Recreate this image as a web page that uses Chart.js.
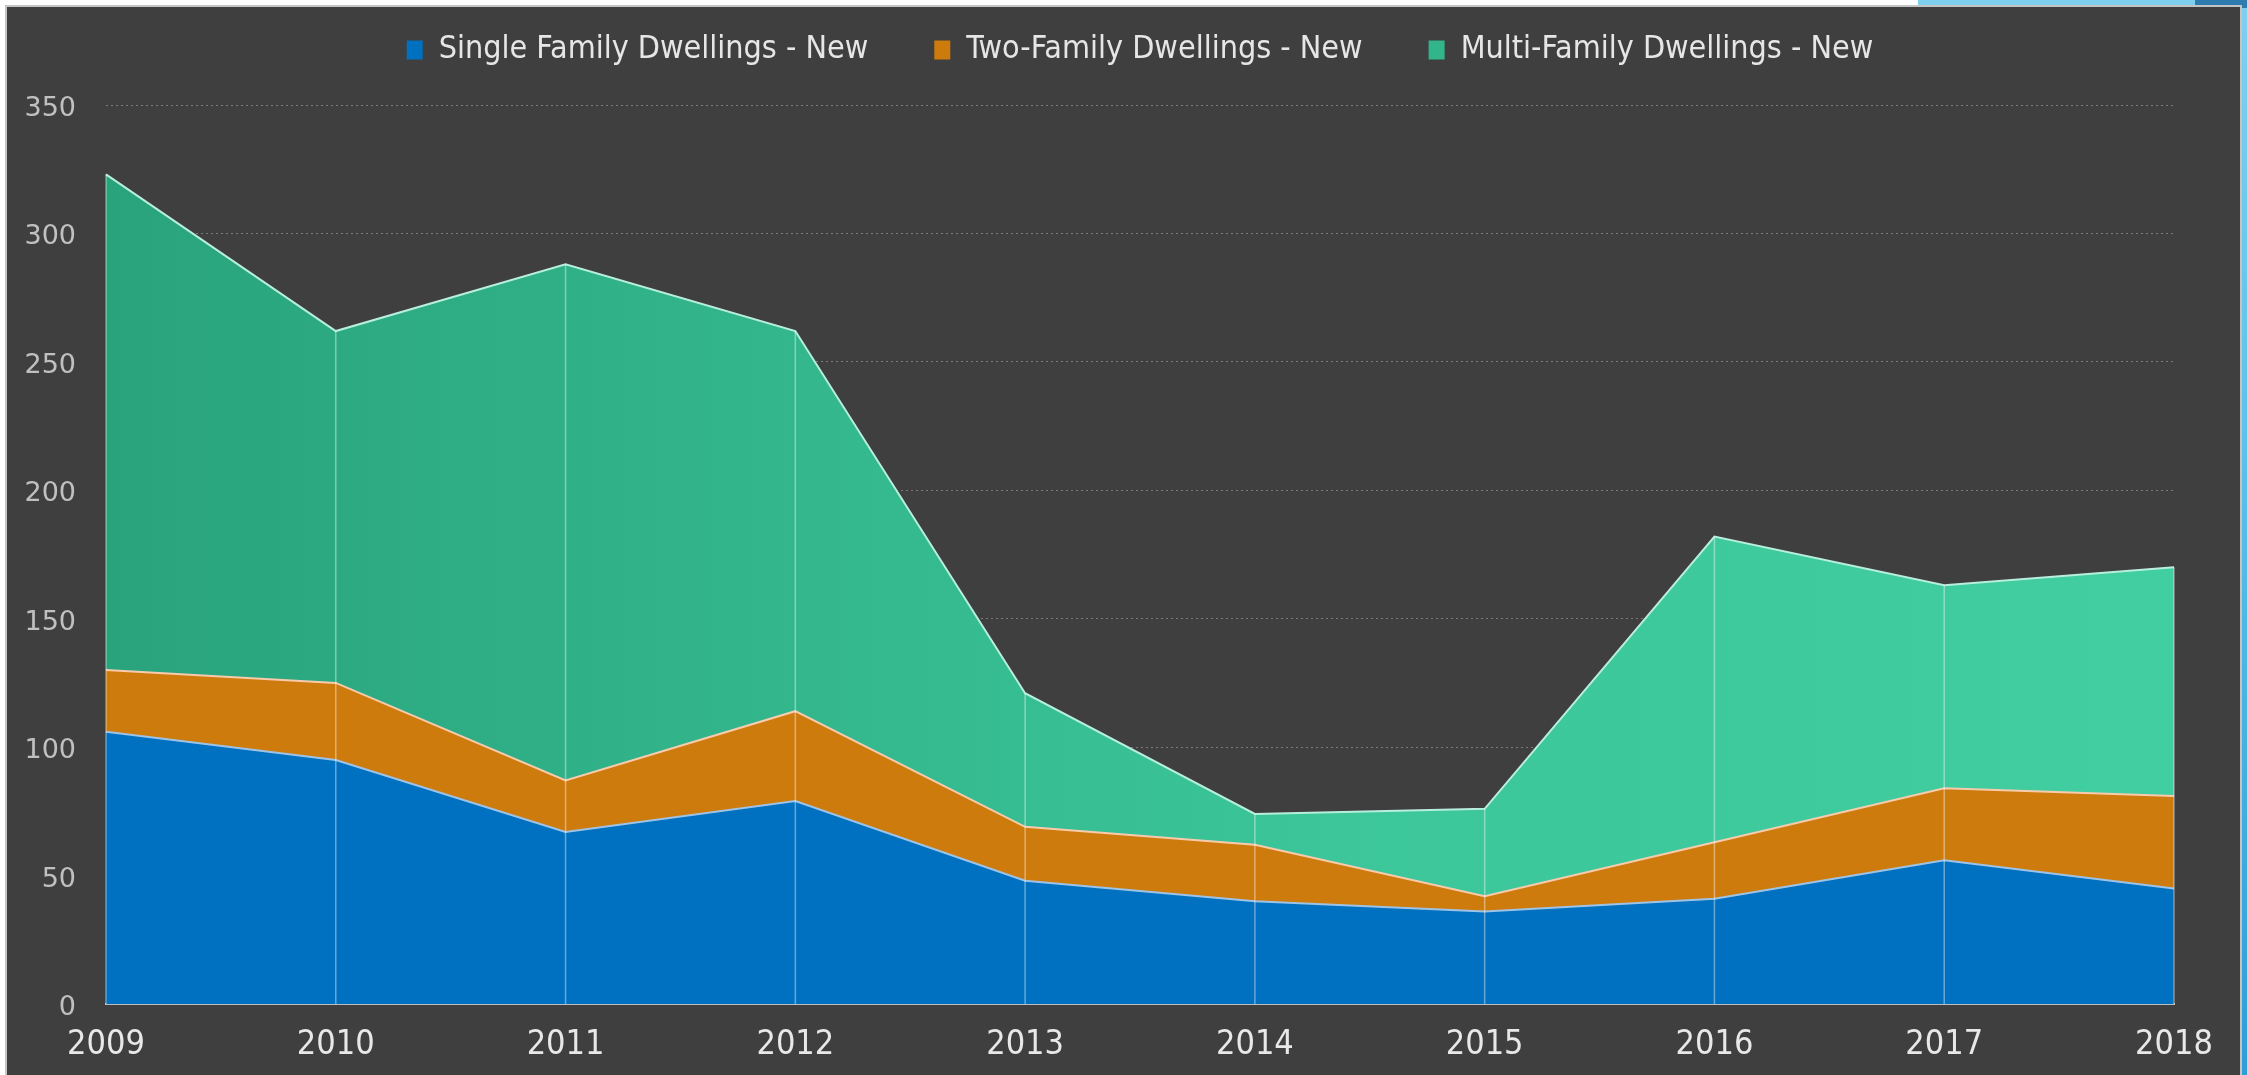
<!DOCTYPE html>
<html>
<head>
<meta charset="utf-8">
<title>New Dwellings</title>
<script src="https://cdn.jsdelivr.net/npm/chart.js@4.4.1/dist/chart.umd.min.js"></script>
<style>
  html, body { margin: 0; padding: 0; background: #fff; overflow: hidden; }
  #deco { position: absolute; left: 1918px; top: 0; width: 329px; height: 1075px;
          background: linear-gradient(180deg, #7ed0ee 0%, #5cc3ea 40%, #2c9fd9 100%); }
  #deco2 { position: absolute; left: 2195px; top: 0; width: 52px; height: 8px; background: #2e7bb0; }
  #panel { position: absolute; left: 5px; top: 5px; width: 2237px; height: 1080px;
           background: #3f3f3f; border: 2px solid #c4c4c4; box-sizing: border-box; }
  #wrap { position: absolute; left: 0; top: 0; width: 2247px; height: 1075px; }
</style>
</head>
<body>
<div id="deco"></div>
<div id="deco2"></div>
<div id="panel"></div>
<div id="wrap"><canvas id="myChart"></canvas></div>
<script>
// data
const years = ["2009", "2010", "2011", "2012", "2013", "2014", "2015", "2016", "2017", "2018"];
const singleFamily = [106, 95, 67, 79, 48, 40, 36, 41, 56, 45];
const twoFamily = [24, 30, 20, 35, 21, 22, 6, 22, 28, 36];
const multiFamily = [193, 137, 201, 148, 52, 12, 34, 119, 79, 89];
const seriesNames = ["Single Family Dwellings - New", "Two-Family Dwellings - New", "Multi-Family Dwellings - New"];
const legendColors = ["#0070c0", "#ce7b0e", "#33b58c"];
const yMax = 350;
const yStep = 50;

const narrow = '"Liberation Sans Narrow", "DejaVu Sans Condensed", "Arial Narrow", sans-serif';

// light vertical lines inside the stacked area, one per year
const dropLines = {
  id: "dropLines",
  afterDatasetsDraw(chart) {
    const { ctx, scales: { x, y } } = chart;
    ctx.save();
    ctx.strokeStyle = "rgba(255,255,255,0.4)";
    ctx.lineWidth = 1.5;
    years.forEach((yr, i) => {
      const total = singleFamily[i] + twoFamily[i] + multiFamily[i];
      const px = x.getPixelForValue(i);
      ctx.beginPath();
      ctx.moveTo(px, y.getPixelForValue(0));
      ctx.lineTo(px, y.getPixelForValue(total));
      ctx.stroke();
    });
    ctx.restore();
  }
};

const greenFill = c => {
  const { chartArea, ctx } = c.chart;
  if (!chartArea) return "#33b58c";
  const g = ctx.createLinearGradient(chartArea.left, 0, chartArea.right, 0);
  g.addColorStop(0, "#29a37c");
  g.addColorStop(0.6, "#3cc69a");
  g.addColorStop(1, "#41cea0");
  return g;
};

const ctx = document.getElementById("myChart").getContext("2d");

const chart = new Chart(ctx, {
  type: "line",
  data: {
    labels: years,
    datasets: [
      {
        label: seriesNames[0],
        data: singleFamily,
        backgroundColor: "#0070c0",
        borderColor: "#9dc3e6",
        borderWidth: 2,
        fill: "origin"
      },
      {
        label: seriesNames[1],
        data: twoFamily,
        backgroundColor: "#ce7b0e",
        borderColor: "#f8cbad",
        borderWidth: 2,
        fill: "-1"
      },
      {
        label: seriesNames[2],
        data: multiFamily,
        backgroundColor: greenFill,
        borderColor: "#b8efdc",
        borderWidth: 2,
        fill: "-1"
      }
    ]
  },
  options: {
    responsive: true,
    maintainAspectRatio: false,
    animation: false,
    elements: {
      point: { radius: 0, hoverRadius: 0 },
      line: { tension: 0 }
    },
    layout: {
      padding: { top: -32, left: 0, right: 73, bottom: 0 }
    },
    plugins: {
      tooltip: { enabled: false },
      legend: {
        position: "top",
        fullSize: false,
        labels: {
          color: "#e6e6e6",
          font: { family: narrow, size: 32 },
          boxWidth: 16,
          boxHeight: 19,
          padding: 66,
          generateLabels(chart) {
            const items = Chart.defaults.plugins.legend.labels.generateLabels(chart);
            items.forEach((item, i) => {
              item.fillStyle = legendColors[i];
              item.strokeStyle = legendColors[i];
              item.lineWidth = 0;
            });
            return items;
          }
        }
      },
      title: {
        display: true,
        text: "",
        weight: 500,
        font: { size: 20, lineHeight: 1 },
        padding: { top: 0, bottom: 9 }
      }
    },
    scales: {
      x: {
        grid: { display: false },
        border: { display: true, color: "#bdbdbd", width: 2 },
        ticks: {
          color: "#e8e8e8",
          font: { family: narrow, size: 34 },
          padding: 13,
          maxRotation: 0,
          autoSkip: false
        },
        afterFit(scale) { scale.height = 71; }
      },
      y: {
        stacked: true,
        min: 0,
        max: yMax,
        ticks: {
          stepSize: yStep,
          color: "#c0c0c0",
          font: { family: '"DejaVu Sans", sans-serif', size: 27 },
          padding: 30,
          labelOffset: 4
        },
        grid: { color: "#7a7a7a", lineWidth: 1, drawTicks: false },
        border: { display: false, dash: [2, 3] },
        afterFit(scale) { scale.width = 106; }
      }
    }
  },
  plugins: [dropLines]
});
</script>
</body>
</html>
